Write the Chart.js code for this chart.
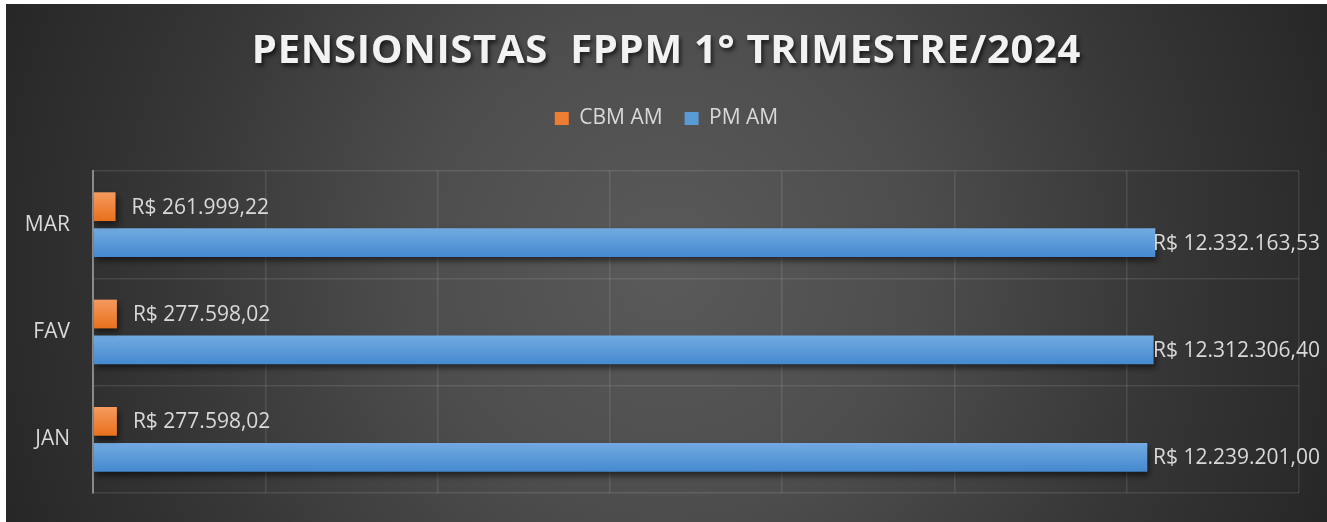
<!DOCTYPE html>
<html>
<head>
<meta charset="utf-8">
<script src="https://cdn.jsdelivr.net/npm/chart.js@4.4.1/dist/chart.umd.min.js"></script>
<style>
  html, body { margin: 0; padding: 0; background: #ffffff; }
  #wrap { position: absolute; left: 6px; top: 4px; width: 1321px; height: 518px; }
</style>
</head>
<body>
<div id="wrap"><canvas id="c"></canvas></div>
<script>
// ---- data ----
const months = ['JAN', 'FAV', 'MAR'];
const seriesNames = ['CBM AM', 'PM AM'];
const cbmValues = [277598.02, 277598.02, 261999.22];
const pmValues = [12239201.00, 12312306.40, 12332163.53];
const axisMin = 0;
const axisMax = 14000000;
const axisStep = 2000000;
const chartTitle = 'PENSIONISTAS  FPPM 1° TRIMESTRE/2024';

// ---- styles ----
const FONT = '"Open Sans", "Noto Sans", sans-serif';
const CAT_PCT = 0.67, BAR_PCT = 0.8;
const palette = [
  { top: '#f59a5f', bottom: '#e8701c', solid: '#ef7d31' },
  { top: '#72aae0', bottom: '#4589d0', solid: '#5b9bd5' }
];

function fmtBRL(v) {
  const parts = v.toFixed(2).split('.');
  return 'R$ ' + parts[0].replace(/\B(?=(\d{3})+(?!\d))/g, '.') + ',' + parts[1];
}

function barGradient(context) {
  const chart = context.chart;
  const pal = palette[context.datasetIndex];
  const y = chart.scales && chart.scales.y;
  if (!chart.chartArea || !y || context.dataIndex === undefined) return pal.solid;
  const band = Math.abs(y.bottom - y.top) / months.length;
  const center = y.getPixelForValue(context.dataIndex);
  const catSize = band * CAT_PCT;
  const chunk = catSize / 2;
  const start = center - catSize / 2 + context.datasetIndex * chunk;
  const top = start + chunk * (1 - BAR_PCT) / 2;
  const bottom = top + chunk * BAR_PCT;
  const g = chart.ctx.createLinearGradient(0, top, 0, bottom);
  g.addColorStop(0, pal.top);
  g.addColorStop(1, pal.bottom);
  return g;
}

const bgPlugin = {
  id: 'bg',
  beforeDraw(chart) {
    const { ctx, width, height } = chart;
    ctx.save();
    const cx = width * 0.5, cy = height * 0.5;
    const g = ctx.createRadialGradient(cx, cy, 0, cx, cy, 720);
    g.addColorStop(0, '#5a5a5a');
    g.addColorStop(0.35, '#4d4d4d');
    g.addColorStop(0.7, '#363636');
    g.addColorStop(1, '#262626');
    ctx.fillStyle = g;
    ctx.fillRect(0, 0, width, height);
    ctx.restore();
    // title shadow + spacing
    const tb = chart.titleBlock;
    if (tb && !tb._patched) {
      const orig = tb.draw.bind(tb);
      tb.draw = function (a) {
        const c = chart.ctx;
        c.save();
        c.shadowColor = 'rgba(0,0,0,0.65)';
        c.shadowOffsetX = 2;
        c.shadowOffsetY = 3;
        c.shadowBlur = 4;
        try { c.letterSpacing = '0.7px'; } catch (e) {}
        orig(a);
        c.restore();
      };
      tb._patched = true;
    }
  }
};

const shadowLabelPlugin = {
  id: 'shadowLabels',
  beforeDatasetsDraw(chart) {
    const ctx = chart.ctx;
    ctx.save();
    ctx.shadowColor = 'rgba(0,0,0,0.55)';
    ctx.shadowOffsetX = 2;
    ctx.shadowOffsetY = 4;
    ctx.shadowBlur = 6;
  },
  afterDatasetsDraw(chart) {
    const ctx = chart.ctx;
    ctx.restore();
    ctx.save();
    ctx.font = '21px ' + FONT;
    ctx.fillStyle = '#d9d9d9';
    ctx.textBaseline = 'middle';
    ctx.textAlign = 'left';
    chart.data.datasets.forEach((ds, di) => {
      const meta = chart.getDatasetMeta(di);
      meta.data.forEach((el, i) => {
        const txt = fmtBRL(ds.data[i]);
        const w = ctx.measureText(txt).width;
        let x = el.x + 16;
        x = Math.min(x, chart.width - 7 - w);
        ctx.fillText(txt, x, el.y + 1);
      });
    });
    ctx.restore();
  }
};

const chart = new Chart(document.getElementById('c'), {
  type: 'bar',
  data: {
    labels: months,
    datasets: [
      { label: seriesNames[0], data: cbmValues, backgroundColor: barGradient, borderWidth: 0,
        categoryPercentage: CAT_PCT, barPercentage: BAR_PCT },
      { label: seriesNames[1], data: pmValues, backgroundColor: barGradient, borderWidth: 0,
        categoryPercentage: CAT_PCT, barPercentage: BAR_PCT }
    ]
  },
  options: {
    indexAxis: 'y',
    responsive: true,
    maintainAspectRatio: false,
    animation: false,
    layout: { padding: { top: 0, left: 0, right: 0, bottom: 29 } },
    plugins: {
      tooltip: { enabled: false },
      title: {
        display: true,
        text: chartTitle,
        color: '#f2f2f2',
        font: { family: FONT, size: 40, weight: 'bold', lineHeight: 1.2 },
        padding: { top: 24, bottom: 10 }
      },
      legend: {
        display: true,
        position: 'top',
        labels: {
          color: '#d9d9d9',
          font: { family: FONT, size: 21 },
          boxWidth: 14,
          boxHeight: 13,
          padding: 22,
          generateLabels(ch) {
            const items = Chart.defaults.plugins.legend.labels.generateLabels(ch);
            items.forEach((it, i) => { it.fillStyle = palette[i].solid; it.strokeStyle = palette[i].solid; it.lineWidth = 0; });
            return items;
          }
        }
      }
    },
    scales: {
      x: {
        type: 'linear',
        position: 'top',
        min: axisMin,
        max: axisMax,
        ticks: { display: false, stepSize: axisStep },
        grid: { color: 'rgba(255,255,255,0.1)', lineWidth: 1.5, drawTicks: false },
        border: { display: false },
        afterFit(s) { s.height = 32; s.paddingLeft = 0; s.paddingRight = 0; }
      },
      y: {
        type: 'category',
        reverse: true,
        offset: true,
        grid: { offset: true, color: 'rgba(255,255,255,0.1)', lineWidth: 1.5, drawTicks: false },
        border: { display: true, color: '#8a8a8a', width: 2 },
        ticks: { color: '#d9d9d9', font: { family: FONT, size: 21 }, padding: 23 },
        afterFit(s) { s.width = 87; s.paddingTop = 0; s.paddingBottom = 0; }
      },
      yRight: {
        type: 'category',
        axis: 'y',
        position: 'right',
        labels: months,
        reverse: true,
        offset: true,
        ticks: { display: false },
        grid: { display: false, drawTicks: false },
        border: { display: false },
        afterFit(s) { s.width = 28; s.paddingTop = 0; s.paddingBottom = 0; }
      }
    }
  },
  plugins: [bgPlugin, shadowLabelPlugin]
});
</script>
</body>
</html>
